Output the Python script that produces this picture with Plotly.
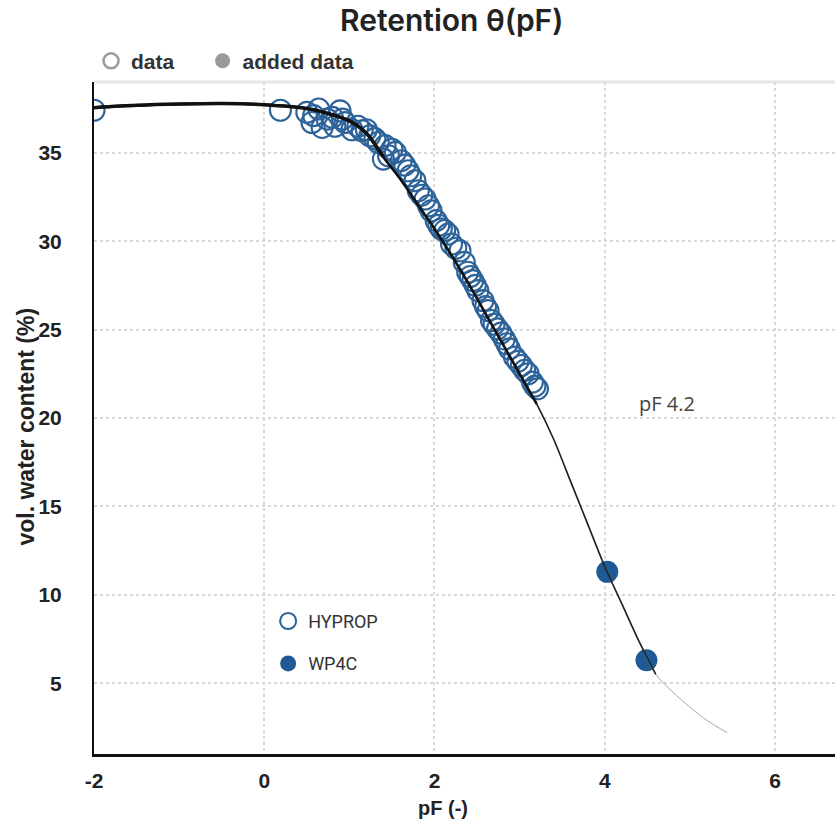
import plotly.graph_objects as go

# ---- data ----
pf_hyprop = [-2.0, 0.19, 0.50, 0.56, 0.58, 0.64, 0.68, 0.74, 0.80, 0.83, 0.89, 0.92, 0.95,
             1.03, 1.10, 1.15, 1.20, 1.24, 1.30, 1.34, 1.40, 1.42, 1.46, 1.50, 1.54, 1.61,
             1.65, 1.69, 1.72, 1.77, 1.81, 1.85, 1.89, 1.93, 1.96, 2.02, 2.05, 2.08, 2.12,
             2.16, 2.20, 2.25, 2.30, 2.35, 2.39, 2.42, 2.45, 2.48, 2.51, 2.57, 2.60, 2.63,
             2.67, 2.70, 2.74, 2.78, 2.82, 2.85, 2.88, 2.94, 2.98, 3.02, 3.06, 3.10, 3.15,
             3.18, 3.21]
theta_hyprop = [37.4, 37.4, 37.28, 36.71, 37.1, 37.47, 36.43, 36.9, 37.0, 36.5, 37.37, 36.9, 36.7,
                36.3, 36.5, 36.24, 36.3, 35.96, 35.8, 35.58, 34.64, 35.4, 34.83, 35.2, 35.02, 34.55,
                34.3, 33.98, 33.7, 33.42, 32.85, 32.6, 32.38, 32.0, 31.72, 31.16, 30.9, 30.69, 30.6,
                30.40, 29.84, 29.6, 29.46, 28.80, 28.24, 28.0, 27.77, 27.5, 27.20, 26.64, 26.3, 26.07,
                25.51, 25.3, 25.04, 24.8, 24.47, 24.2, 23.91, 23.44, 23.2, 22.97, 22.7, 22.50, 22.03,
                21.8, 21.65]

pf_wp4c = [4.03, 4.49]
theta_wp4c = [11.3, 6.3]

pf_fit = [-2.0, -1.5, -1.0, -0.5, 0.0, 0.5, 0.8, 1.0, 1.2, 1.4, 1.6, 1.8, 2.0, 2.2, 2.4,
          2.6, 2.8, 3.0, 3.2, 3.4, 3.6, 3.8, 4.0, 4.2, 4.4, 4.6, 4.8, 5.0, 5.2, 5.44]
theta_fit = [37.55, 37.68, 37.75, 37.78, 37.72, 37.5, 37.15, 36.8, 36.1, 34.75, 33.5, 32.1, 30.7,
             29.2, 27.6, 25.9, 24.2, 22.5, 20.8, 18.8, 16.4, 14.0, 11.6, 9.5, 7.4, 5.5, 4.5,
             3.65, 2.9, 2.2]

x_ticks = [-2, 0, 2, 4, 6]
x_ticktext = ["-2", "0", "2", "4", "6"]
y_ticks = [5, 10, 15, 20, 25, 30, 35]

title_text = "Retention θ(pF)"
x_title = "pF (-)"
y_title = "vol. water content (%)"
marker_note = "pF 4.2"
legend_top_names = ["data", "added data"]

BLUE_LINE = "#2d6399"
BLUE_FILL = "#1f5a96"
TICK_FONT = dict(family="Liberation Sans", size=21, color="#222", weight="bold")
NBSP = "\u00a0"

fig = go.Figure()

# top legend entries
fig.add_trace(go.Scatter(x=[None], y=[None], mode="markers",
                         name=legend_top_names[0] + NBSP * 4, legend="legend",
                         marker=dict(symbol="circle-open", size=15, color="#9a9a9a",
                                     line=dict(width=2.5))))
fig.add_trace(go.Scatter(x=[None], y=[None], mode="markers", name=legend_top_names[1],
                         legend="legend",
                         marker=dict(symbol="circle", size=15, color="#9a9a9a")))

# measured data
fig.add_trace(go.Scatter(x=pf_hyprop, y=theta_hyprop, mode="markers", name="HYPROP",
                         legend="legend2", legendgroup="g1",
                         marker=dict(symbol="circle-open", size=21, color=BLUE_LINE,
                                     line=dict(width=2.1))))
fig.add_trace(go.Scatter(x=pf_wp4c, y=theta_wp4c, mode="markers", name="WP4C",
                         legend="legend2", legendgroup="g2",
                         marker=dict(symbol="circle", size=22, color=BLUE_FILL)))

# fitted curve: thin full curve, with thicker overlays where the reference is bolder
n = len(pf_fit)
curve_layers = [(0, n, 1.0, "#a8a8a8"), (16, 26, 1.6, "#222222"), (0, 19, 2.6, "#111111"),
                (0, 10, 3.5, "#111111")]
for a, b, w, c in curve_layers:
    fig.add_trace(go.Scatter(x=pf_fit[a:b], y=theta_fit[a:b], mode="lines", showlegend=False,
                             line=dict(color=c, width=w, shape="spline", smoothing=0.8),
                             hoverinfo="skip"))

fig.update_layout(
    width=835, height=828,
    margin=dict(l=94, r=0, t=82, b=74),
    paper_bgcolor="white", plot_bgcolor="white",
    xaxis=dict(range=[-2, 6.705], tickvals=x_ticks, ticktext=x_ticktext, showgrid=True,
               gridcolor="#d9d9d9", griddash="dot", gridwidth=1.5, zeroline=False,
               showline=True, linecolor="#111", linewidth=3, ticks="", tickfont=TICK_FONT,
               ticklabelstandoff=6),
    yaxis=dict(range=[1, 39], tickvals=y_ticks, showgrid=True, gridcolor="#d9d9d9",
               griddash="dot", gridwidth=1.5, zeroline=False, showline=True, linecolor="#111",
               linewidth=2, ticks="", tickfont=TICK_FONT, ticklabelstandoff=26),
    legend=dict(orientation="h", x=-0.004, y=1.031, xanchor="left", yanchor="middle",
                font=dict(family="Liberation Sans", size=21, color="#333", weight="bold"),
                bgcolor="rgba(0,0,0,0)", itemclick=False),
    legend2=dict(x=0.235, y=0.225, xanchor="left", yanchor="top", tracegroupgap=16,
                 font=dict(family="Roboto", size=18, color="#333"),
                 bgcolor="rgba(0,0,0,0)", itemclick=False),
    shapes=[dict(type="line", xref="paper", yref="paper", x0=0, x1=1, y0=1, y1=1,
                 line=dict(color="#e6e6e6", width=3), layer="below")],
    annotations=[
        dict(text=title_text, xref="paper", yref="paper", x=0.482, y=1.092, showarrow=False,
             xanchor="center", yanchor="middle",
             font=dict(family="Inter", size=30, color="#222", weight=600)),
        dict(text=x_title, xref="paper", yref="paper", x=0.471, y=-0.080, showarrow=False,
             xanchor="center", yanchor="middle",
             font=dict(family="Liberation Sans", size=20, color="#222", weight="bold")),
        dict(text=y_title, xref="paper", yref="paper", x=-0.092, y=0.487, showarrow=False,
             textangle=-90, xanchor="center", yanchor="middle",
             font=dict(family="Liberation Sans", size=23, color="#222", weight="bold")),
        dict(text=marker_note, xref="x", yref="y", x=4.73, y=20.8, showarrow=False,
             xanchor="center", yanchor="middle",
             font=dict(family="Open Sans", size=20, color="#444")),
    ],
)

fig.write_html("out.html", config={"displayModeBar": False},
               post_script="document.body.style.margin='0px';document.body.style.overflow='hidden';")
